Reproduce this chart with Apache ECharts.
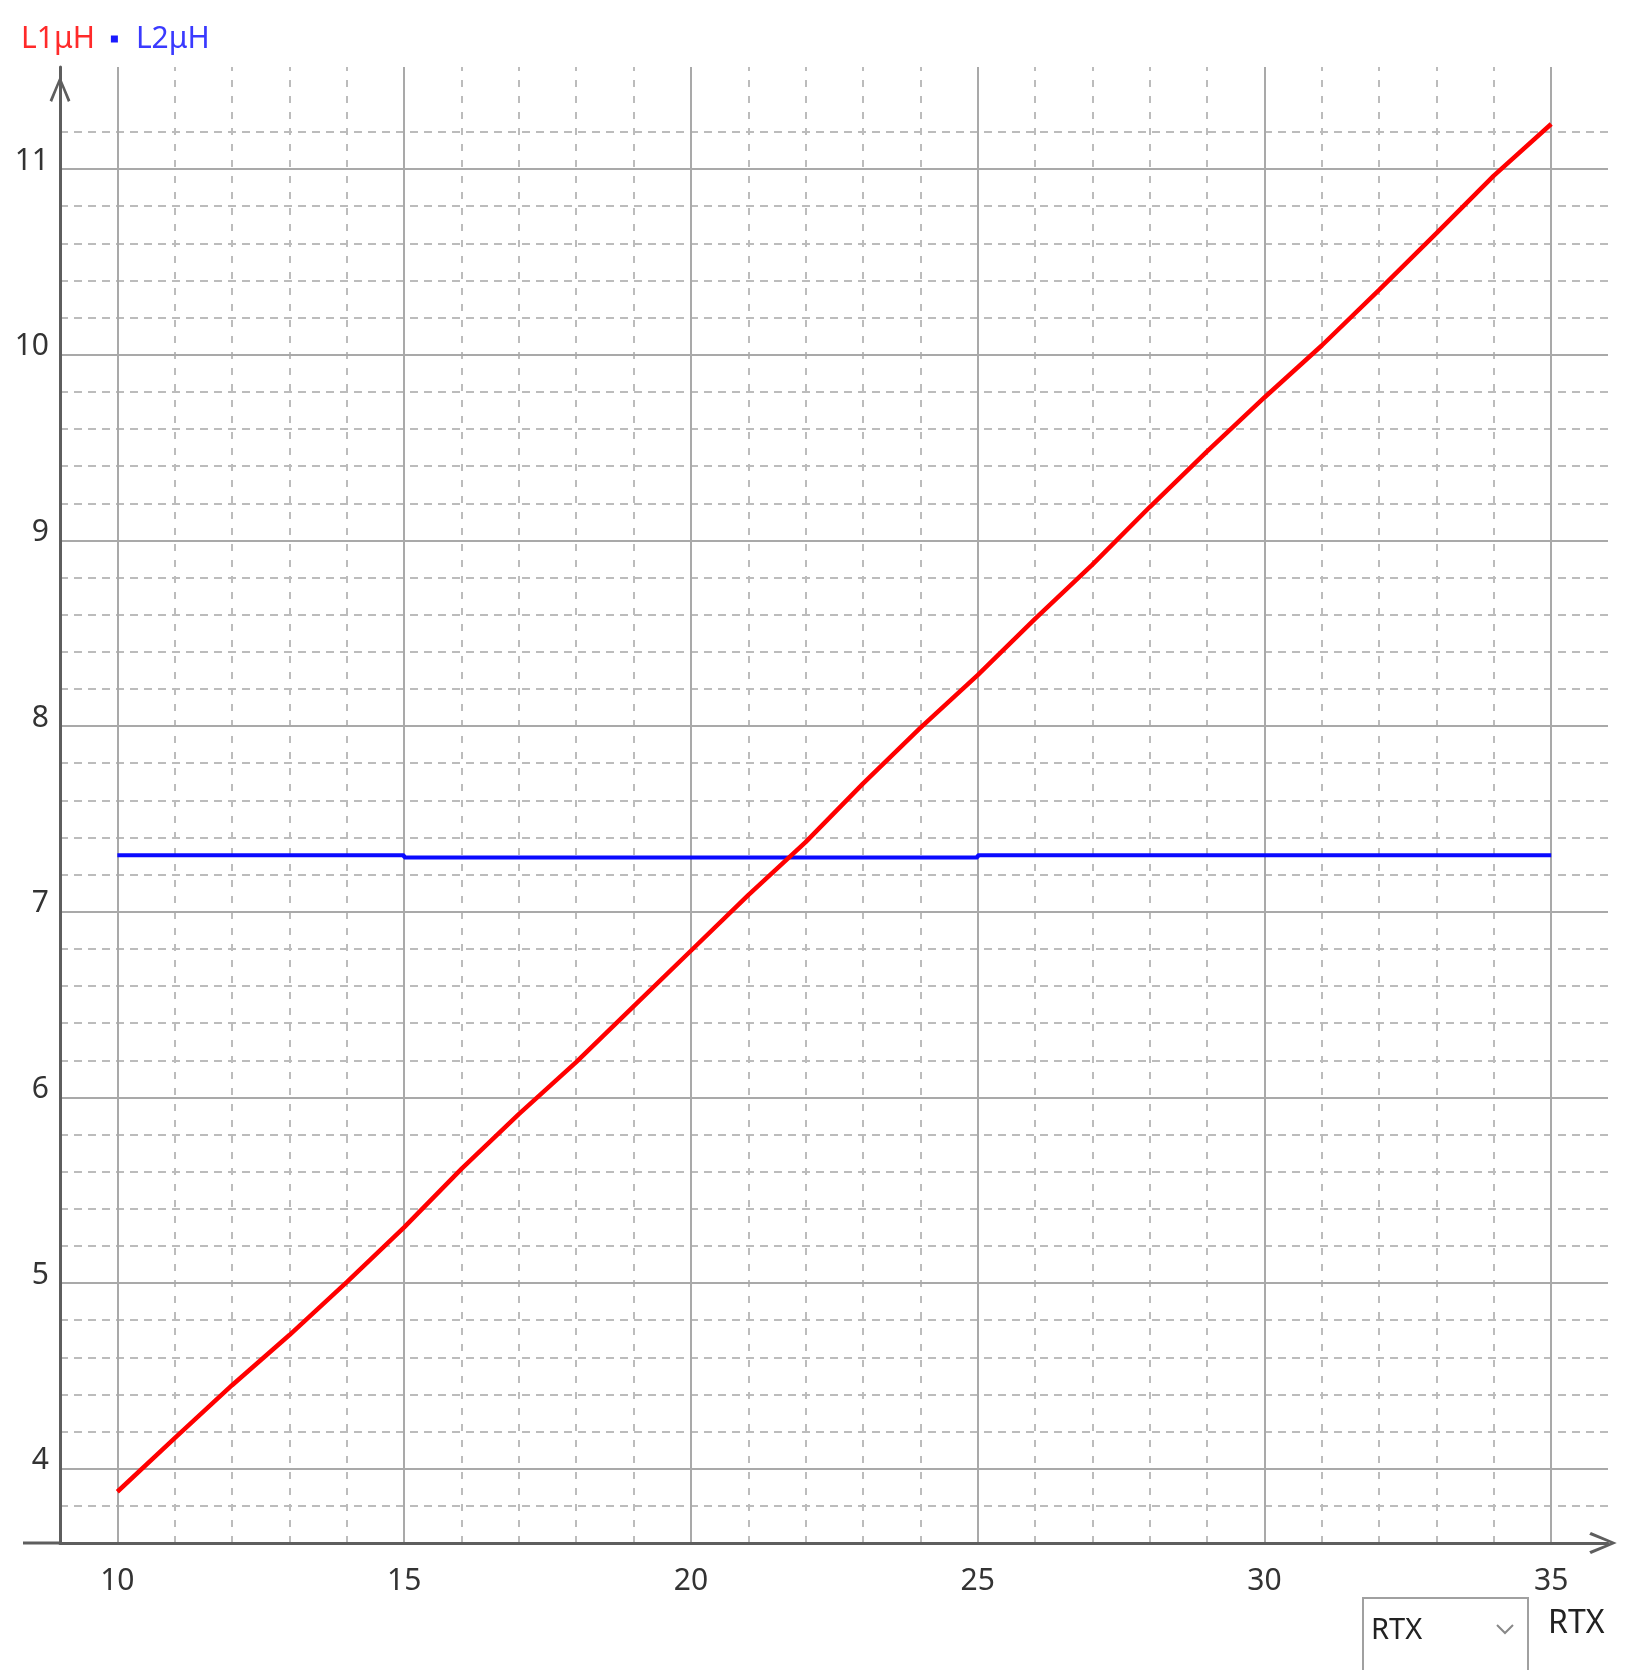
<!DOCTYPE html>
<html>
<head>
<meta charset="utf-8">
<script src="https://cdn.jsdelivr.net/npm/echarts@6/dist/echarts.min.js"></script>
<style>
html,body{margin:0;padding:0;background:#fff;}
#c{width:1641px;height:1670px;}
</style>
</head>
<body>
<div id="c"></div>
<script>
// ---- data ----
var seriesNames = ['L1μH', 'L2μH'];
var l1X = [10, 11, 12, 13, 14, 15, 16, 17, 18, 19, 20, 21, 22, 23, 24, 25, 26, 27, 28, 29, 30, 31, 32, 33, 34, 35];
var l1Values = [3.876, 4.165, 4.45, 4.72, 5.005, 5.30, 5.615, 5.91, 6.19, 6.49, 6.79, 7.09, 7.375, 7.69, 7.99, 8.275, 8.577, 8.87, 9.18, 9.48, 9.77, 10.05, 10.35, 10.655, 10.965, 11.243];
var l2X = [10, 15, 15, 25, 25, 35];
var l2Values = [7.305, 7.305, 7.292, 7.292, 7.305, 7.305];
var xTickLabels = ['10', '15', '20', '25', '30', '35'];
var yTickLabels = ['4', '5', '6', '7', '8', '9', '10', '11'];
var xMajorGrid = [10, 15, 20, 25, 30, 35];
var xMinorGrid = [11, 12, 13, 14, 16, 17, 18, 19, 21, 22, 23, 24, 26, 27, 28, 29, 31, 32, 33, 34];
var yMajorGrid = [4, 5, 6, 7, 8, 9, 10, 11];
var yMinorGrid = [3.8, 4.2, 4.4, 4.6, 4.8, 5.2, 5.4, 5.6, 5.8, 6.2, 6.4, 6.6, 6.8, 7.2, 7.4, 7.6, 7.8,
                  8.2, 8.4, 8.6, 8.8, 9.2, 9.4, 9.6, 9.8, 10.2, 10.4, 10.6, 10.8, 11.2];
var axisName = 'RTX';
var comboText = 'RTX';

// ---- build ----
function pairs(xs, ys) { return xs.map(function (x, i) { return [x, ys[i]]; }); }
function labelFor(list) {
  return function (v) {
    for (var i = 0; i < list.length; i++) {
      if (Math.abs(Number(list[i]) - v) < 1e-6) return list[i];
    }
    return '';
  };
}
var FONT = 'Noto Sans';
var majorStyle = { color: '#a9a9a9', width: 2, type: 'solid' };
var minorHStyle = { color: '#bcbcbc', width: 2, type: [8, 6] };
var minorVStyle = { color: '#bcbcbc', width: 2, type: [7, 9] };
var gridLines = [];
xMinorGrid.forEach(function (v) { gridLines.push({ xAxis: v, lineStyle: minorVStyle }); });
yMinorGrid.forEach(function (v) { gridLines.push({ yAxis: v, lineStyle: minorHStyle }); });
xMajorGrid.forEach(function (v) { gridLines.push({ xAxis: v, lineStyle: majorStyle }); });
yMajorGrid.forEach(function (v) { gridLines.push({ yAxis: v, lineStyle: majorStyle }); });

var chevron = 'path://M10,0 L20,23.5 L17.6,25 L10,6 L2.4,25 L0,23.5 Z';
var axisColor = '#5e5e5e';

var chart = echarts.init(document.getElementById('c'), null, { renderer: 'canvas' });
chart.setOption({
  animation: false,
  backgroundColor: '#ffffff',
  textStyle: { fontFamily: FONT },
  legend: {
    left: -9, top: 19,
    itemWidth: 7, itemHeight: 7, itemGap: 16,
    selectedMode: false,
    textStyle: { fontSize: 30, fontFamily: FONT, padding: [0, 0, 0, 13] },
    data: [
      { name: seriesNames[0], icon: 'none', textStyle: { color: '#ff2a2a' } },
      { name: seriesNames[1], icon: 'rect', itemStyle: { color: '#1a1aff' }, textStyle: { color: '#3a3aff' } }
    ]
  },
  grid: { left: 60, right: 33, top: 67, bottom: 127, containLabel: false },
  xAxis: {
    type: 'value', min: 9, max: 35.99, interval: 1, z: 3,
    axisLine: { show: true, onZero: false, lineStyle: { color: axisColor, width: 3 },
      symbol: ['none', chevron], symbolSize: [22, 30], symbolOffset: [0, -5] },
    axisTick: { show: false },
    splitLine: { show: false },
    axisLabel: { show: true, margin: 23, fontSize: 30, color: '#333', fontFamily: FONT,
      formatter: labelFor(xTickLabels), showMinLabel: true, showMaxLabel: true }
  },
  yAxis: {
    type: 'value', min: 3.6, max: 11.55, interval: 0.2, z: 3,
    axisLine: { show: true, onZero: false, lineStyle: { color: axisColor, width: 3 },
      symbol: ['none', chevron], symbolSize: [21, 26], symbolOffset: [0, -22] },
    axisTick: { show: false },
    splitLine: { show: false },
    axisLabel: { show: true, margin: 11, fontSize: 30, color: '#333', fontFamily: FONT,
      verticalAlign: 'bottom', lineHeight: 16,
      formatter: labelFor(yTickLabels) }
  },
  series: [
    {
      type: 'line', name: '_grid', data: [], silent: true, z: 1,
      markLine: {
        z: 1, silent: true, symbol: ['none', 'none'], animation: false,
        label: { show: false }, emphasis: { disabled: true },
        data: gridLines
      }
    },
    {
      type: 'line', name: seriesNames[0], data: pairs(l1X, l1Values), z: 4,
      showSymbol: false, symbol: 'none', color: '#ff0000',
      lineStyle: { color: '#ff0000', width: 4.5 }
    },
    {
      type: 'line', name: seriesNames[1], data: pairs(l2X, l2Values), z: 3,
      showSymbol: false, symbol: 'none', color: '#0000ff',
      lineStyle: { color: '#0a0aff', width: 4 }
    }
  ],
  graphic: [
    { type: 'line', shape: { x1: 23, y1: 1543, x2: 61, y2: 1543 }, style: { stroke: axisColor, lineWidth: 3 }, z: 10 },
    { type: 'rect', shape: { x: 1363, y: 1598, width: 165, height: 100 }, style: { fill: null, stroke: '#a0a0a0', lineWidth: 2 }, z: 10 },
    { type: 'text', x: 1371, y: 1631, style: { text: comboText, fontSize: 29, fontFamily: FONT, fill: '#222', verticalAlign: 'middle', align: 'left' }, z: 10 },
    { type: 'polyline', shape: { points: [[1497, 1625], [1505, 1633], [1513, 1625]] }, style: { stroke: '#888', lineWidth: 2, fill: null }, z: 10 },
    { type: 'text', x: 1548, y: 1624, style: { text: axisName, fontSize: 32, fontFamily: FONT, fill: '#222', verticalAlign: 'middle', align: 'left' }, z: 10 }
  ]
});
</script>
</body>
</html>
